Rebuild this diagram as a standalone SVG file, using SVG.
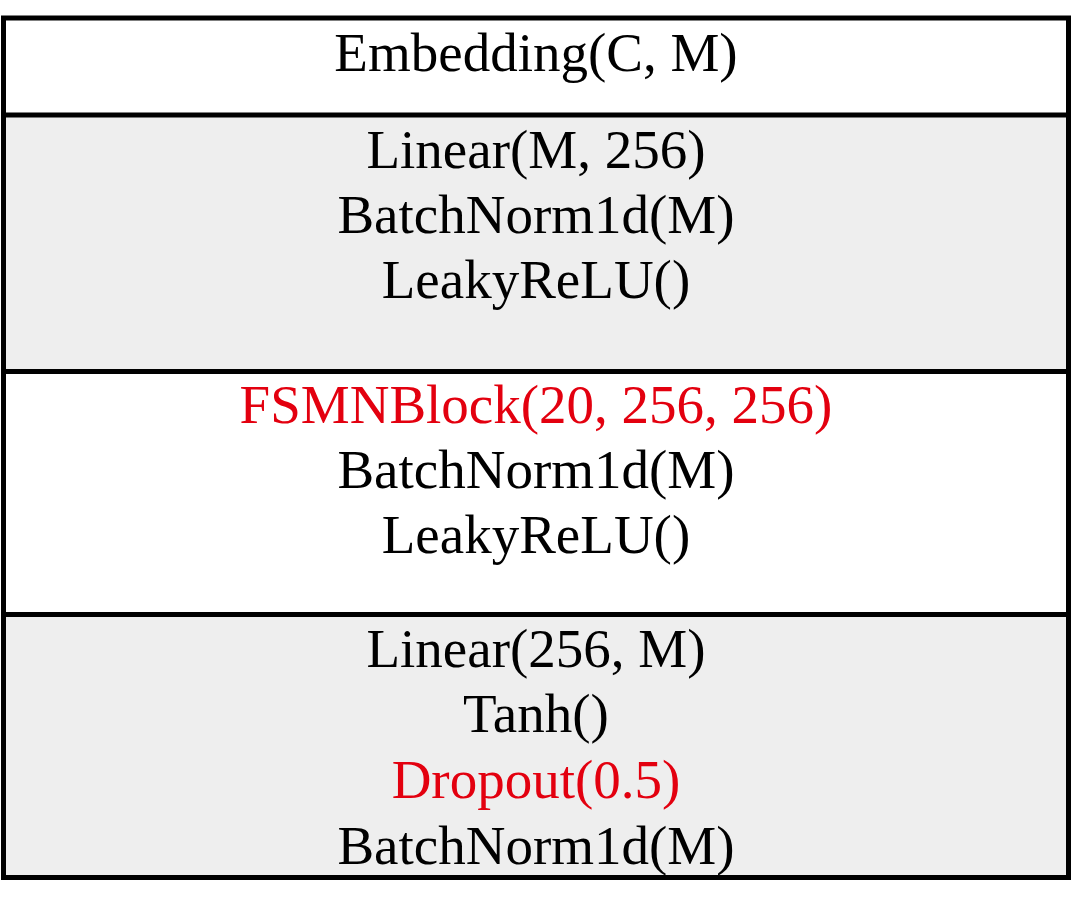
<svg xmlns="http://www.w3.org/2000/svg" width="1074" height="911" viewBox="0 0 1074 911">
  <style>
    .band-white { fill: #ffffff; }
    .band-grey { fill: #eeeeee; }
    .rule { stroke: #000000; stroke-width: 5; fill: none; }
    .lbl { font-family: "Liberation Serif", "Times New Roman", serif; font-size: 55px; text-anchor: middle; fill: #000000; }
    .hl { fill: #e3000f; }
  </style>
  <rect width="1074" height="911" fill="#ffffff"/>

  <g id="embedding">
    <rect class="band-white" x="3.5" y="18" width="1065" height="97"/>
    <text class="lbl" x="536" y="71">Embedding(C, M)</text>
  </g>

  <g id="input-projection">
    <rect class="band-grey" x="3.5" y="115" width="1065" height="256.5"/>
    <text class="lbl" x="536" y="168">Linear(M, 256)</text>
    <text class="lbl" x="536" y="233">BatchNorm1d(M)</text>
    <text class="lbl" x="536" y="298">LeakyReLU()</text>
  </g>

  <g id="fsmn-block">
    <rect class="band-white" x="3.5" y="371.5" width="1065" height="243"/>
    <text class="lbl hl" x="536" y="423">FSMNBlock(20, 256, 256)</text>
    <text class="lbl" x="536" y="488">BatchNorm1d(M)</text>
    <text class="lbl" x="536" y="553">LeakyReLU()</text>
  </g>

  <g id="output-projection">
    <rect class="band-grey" x="3.5" y="614.5" width="1065" height="263"/>
    <text class="lbl" x="536" y="667">Linear(256, M)</text>
    <text class="lbl" x="536" y="732">Tanh()</text>
    <text class="lbl hl" x="536" y="798">Dropout(0.5)</text>
    <text class="lbl" x="536" y="864">BatchNorm1d(M)</text>
  </g>

  <g id="connectors">
    <rect class="rule" x="3.5" y="18" width="1065" height="859.5"/>
    <line class="rule" x1="3.5" y1="115" x2="1068.5" y2="115"/>
    <line class="rule" x1="3.5" y1="371.5" x2="1068.5" y2="371.5"/>
    <line class="rule" x1="3.5" y1="614.5" x2="1068.5" y2="614.5"/>
  </g>
</svg>
